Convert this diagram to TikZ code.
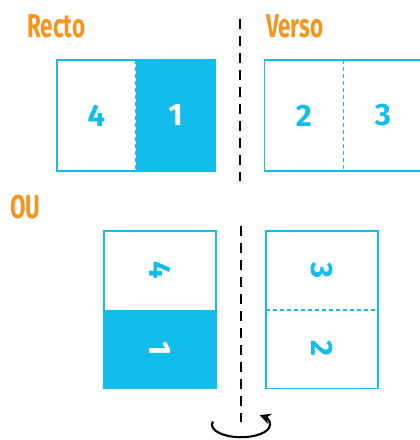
\documentclass[tikz,border=0pt]{standalone}
\usepackage{fontspec}
\setmainfont{Fira Sans}
\usepackage{graphicx}
\usetikzlibrary{arrows.meta}
\definecolor{cyanp}{HTML}{13BDEB}
\definecolor{orangep}{HTML}{F7941D}
\newcommand{\headtxt}[1]{\scalebox{0.68}[1]{\bfseries #1}}
\newcommand{\turned}[1]{\rotatebox{-90}{#1}}

\begin{document}
\begin{tikzpicture}[x=1pt, y=-1pt,
	half/.style={inner sep=0pt, text=cyanp, font=\fontsize{31}{31}\selectfont\bfseries},
	wide/.style={half, minimum width=79pt, minimum height=111pt},
	tall/.style={half, minimum width=112pt, minimum height=78.5pt},
	full/.style={fill=cyanp, text=white},
	frame/.style={draw=cyanp, line width=1.6pt},
	fold/.style={draw=cyanp, line width=1.5pt, dash pattern=on 4pt off 3pt},
	axis/.style={draw=black, line width=2.6pt, dash pattern=on 10pt off 7pt},
	head/.style={anchor=base west, inner sep=0pt, text=orangep, font=\fontsize{33}{33}\selectfont}]
	\useasboundingbox (0,0) rectangle (420,440);
	% titles
	\node[head] (recto) at (27,37) {\headtxt{Recto}};
	\node[head] (verso) at (266,37) {\headtxt{Verso}};
	\node[head] (ou) at (10,218) {\headtxt{OU}};
	% recto / verso, side by side
	\node[wide] (r4) at (96.5,115.5) {4};
	\node[wide, full] (r1) at (175.5,115.5) {1};
	\node[wide] (v2) at (304,115.5) {2};
	\node[wide] (v3) at (383,115.5) {3};
	\draw[frame] (r4.north west) rectangle (r1.south east);
	\draw[frame] (v2.north west) rectangle (v3.south east);
	\draw[fold] (r4.north east) -- (r4.south east);
	\draw[fold] (v2.north east) -- (v2.south east);
	% recto / verso, one above the other
	\node[tall] (b4) at (160,270.5) {\turned{4}};
	\node[tall, full] (b1) at (160,349) {\turned{1}};
	\node[tall] (c3) at (322,270.5) {\turned{3}};
	\node[tall] (c2) at (322,349) {\turned{2}};
	\draw[frame] (b4.north west) rectangle (b1.south east);
	\draw[frame] (c3.north west) rectangle (c2.south east);
	\draw[fold] (c3.south west) -- (c3.south east);
	% axis of turning
	\coordinate (a1) at (240,19);
	\coordinate (a2) at (240,181);
	\coordinate (a3) at (241,226);
	\coordinate (a4) at (241,422);
	\coordinate (s) at (213,421.5);
	\draw[axis] (a1) -- (a2);
	\draw[axis] (a3) -- (a4);
	\draw[line width=2.1pt, -{Stealth[length=11pt, width=11pt]}] (s) arc[start angle=195, end angle=-50, x radius=29, y radius=12.5];
\end{tikzpicture}
\end{document}
